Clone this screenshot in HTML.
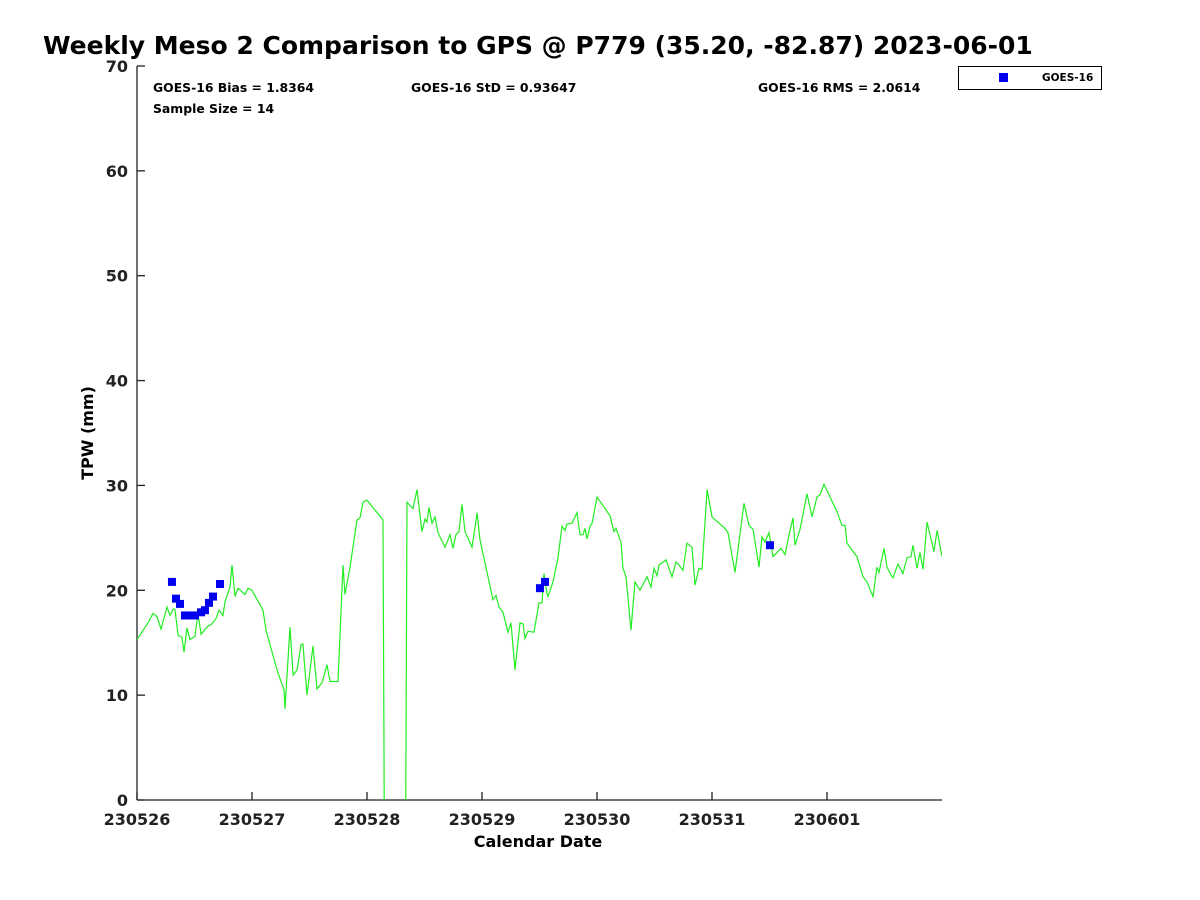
<!DOCTYPE html>
<html><head><meta charset="utf-8">
<style>
html,body{margin:0;background:#fff;overflow:hidden;width:1200px;height:900px;}
svg{display:block;font-family:"DejaVu Sans","Liberation Sans",sans-serif;font-weight:bold;}
</style></head>
<body>
<svg id="chart" width="1200" height="900" viewBox="0 0 1200 900" xmlns="http://www.w3.org/2000/svg">
<rect width="1200" height="900" fill="#fff"/>
<text x="43" y="54" font-size="25" fill="#000">Weekly Meso 2 Comparison to GPS @ P779 (35.20, -82.87) 2023-06-01</text>
<defs><clipPath id="plotclip"><rect x="137" y="66" width="805" height="734"/></clipPath></defs>
<g id="axes"></g>
<g id="series" clip-path="url(#plotclip)"></g>
<text x="153" y="92" font-size="12.4">GOES-16 Bias = 1.8364</text>
<text x="411" y="92" font-size="12.4">GOES-16 StD = 0.93647</text>
<text x="758" y="92" font-size="12.4">GOES-16 RMS = 2.0614</text>
<text x="153" y="113" font-size="12.4">Sample Size = 14</text>
<g>
<rect x="958.5" y="66.5" width="143" height="23" fill="#fff" stroke="#000" stroke-width="1"/>
<rect x="999" y="73" width="9" height="9" fill="#0000ee"/>
<text x="1042" y="81" font-size="10.5">GOES-16</text>
</g>
<text x="538" y="847" font-size="16" text-anchor="middle">Calendar Date</text>
<text transform="translate(93,433) rotate(-90)" font-size="16" text-anchor="middle">TPW (mm)</text>
</svg>
<script>
const gpsDays=[0,0.096,0.139,0.174,0.209,0.261,0.287,0.313,0.330,0.357,0.391,0.409,0.435,0.461,0.504,0.530,0.557,0.609,0.652,0.687,0.713,0.748,0.765,0.809,0.826,0.852,0.878,0.939,0.965,1.000,1.096,1.122,1.217,1.278,1.287,1.330,1.357,1.391,1.426,1.443,1.478,1.530,1.565,1.609,1.652,1.678,1.748,1.791,1.809,1.852,1.913,1.939,1.965,2.000,2.139,2.157,2.330,2.348,2.400,2.435,2.478,2.504,2.522,2.539,2.565,2.591,2.617,2.678,2.722,2.748,2.774,2.800,2.826,2.852,2.913,2.957,2.983,3.096,3.122,3.148,3.183,3.226,3.252,3.287,3.330,3.357,3.374,3.400,3.452,3.496,3.522,3.539,3.565,3.574,3.617,3.661,3.696,3.722,3.739,3.783,3.826,3.852,3.878,3.896,3.913,3.939,3.957,4.000,4.113,4.148,4.165,4.209,4.226,4.252,4.296,4.330,4.374,4.435,4.470,4.496,4.522,4.539,4.600,4.652,4.687,4.713,4.748,4.783,4.826,4.852,4.887,4.913,4.957,5.000,5.113,5.139,5.200,5.278,5.322,5.357,5.409,5.435,5.461,5.496,5.530,5.600,5.635,5.670,5.704,5.722,5.765,5.826,5.870,5.913,5.939,5.974,6.087,6.130,6.157,6.174,6.226,6.261,6.313,6.348,6.400,6.435,6.452,6.496,6.522,6.565,6.574,6.617,6.661,6.696,6.730,6.748,6.783,6.809,6.835,6.870,6.930,6.957,7.000];
const gpsValues=[15.3,16.9,17.8,17.5,16.3,18.4,17.6,18.2,18.2,15.7,15.5,14.1,16.4,15.3,15.6,17.8,15.8,16.5,16.8,17.3,18.1,17.6,18.9,20.3,22.4,19.4,20.2,19.6,20.2,20.0,18.1,16.2,12.4,10.5,8.7,16.5,11.9,12.4,14.8,14.9,10.0,14.7,10.6,11.2,12.9,11.3,11.3,22.4,19.6,22.2,26.7,26.9,28.4,28.6,26.7,-20,-20,28.4,27.8,29.6,25.6,26.8,26.5,27.9,26.4,27.0,25.5,24.1,25.3,24.0,25.3,25.6,28.2,25.6,24.1,27.4,24.8,19.1,19.5,18.4,17.9,16.0,16.9,12.4,16.9,16.8,15.4,16.1,16.0,18.8,18.8,21.6,19.7,19.4,20.8,23.1,26.1,25.7,26.3,26.4,27.4,25.3,25.3,25.9,24.9,26.1,26.4,28.9,27.1,25.6,25.9,24.6,22.1,21.3,16.2,20.8,20.0,21.3,20.3,22.1,21.4,22.4,22.9,21.3,22.7,22.4,21.9,24.5,24.1,20.5,22.1,22.0,29.6,27.0,25.9,25.5,21.7,28.3,26.2,25.8,22.2,25.1,24.6,25.5,23.2,24.0,23.4,25.3,26.9,24.3,25.8,29.2,27.0,28.9,29.1,30.1,27.5,26.2,26.2,24.5,23.7,23.2,21.3,20.8,19.4,22.2,21.7,24.0,22.2,21.3,21.2,22.5,21.6,23.1,23.2,24.3,22.1,23.6,22.0,26.5,23.7,25.7,23.2];
const goesDays=[0.304,0.339,0.374,0.417,0.461,0.504,0.557,0.591,0.626,0.661,0.722,3.504,3.548,5.504];
const goesValues=[20.8,19.2,18.7,17.6,17.6,17.6,17.9,18.1,18.8,19.4,20.6,20.2,20.8,24.3];
const xTickLabels=["230526","230527","230528","230529","230530","230531","230601"];
const yTickLabels=[0,10,20,30,40,50,60,70];

const NS="http://www.w3.org/2000/svg";
const X0=137,X1=942,Y0=800,Y1=66,DAYS=7,VMAX=70;
function xs(d){return X0+(X1-X0)*d/DAYS;}
function ys(v){return Y0-(Y0-Y1)*v/VMAX;}
function mk(tag,attrs,parent){const e=document.createElementNS(NS,tag);for(const k in attrs)e.setAttribute(k,attrs[k]);parent.appendChild(e);return e;}
const axes=document.getElementById('axes');
const series=document.getElementById('series');
let el=mk('line',{x1:X0,y1:Y1,x2:X0,y2:Y0,stroke:'#222','stroke-width':1.3},axes);


el=mk('line',{x1:X0,y1:Y0,x2:X1,y2:Y0,stroke:'#222','stroke-width':1.3},axes);


yTickLabels.forEach(v=>{
  const y=ys(v);
  const t=mk('line',{x1:X0,y1:y,x2:X0+8,y2:y,stroke:'#222','stroke-width':1.3},axes);
  
  
  const l=mk('text',{x:X0-9,y:y+6,'font-size':16,'text-anchor':'end',fill:'#222'},axes);
  l.textContent=v;
  
  
});
xTickLabels.forEach((s,i)=>{
  const x=xs(i);
  const t=mk('line',{x1:x,y1:Y0,x2:x,y2:Y0-8,stroke:'#222','stroke-width':1.3},axes);
  
  
  const l=mk('text',{x:x,y:Y0+25,'font-size':16,'text-anchor':'middle',fill:'#222'},axes);
  l.textContent=s;
  
  
});
const pts=gpsDays.map((d,i)=>xs(d).toFixed(1)+','+ys(gpsValues[i]).toFixed(1)).join(' ');
const line=mk('polyline',{points:pts,fill:'none',stroke:'#22ee22','stroke-width':1.2},series);


goesDays.forEach((d,i)=>{
  const r=mk('rect',{x:xs(d)-4,y:ys(goesValues[i])-4,width:8,height:8,fill:'#0000ee'},series);
  
  
});
</script>
</body></html>
